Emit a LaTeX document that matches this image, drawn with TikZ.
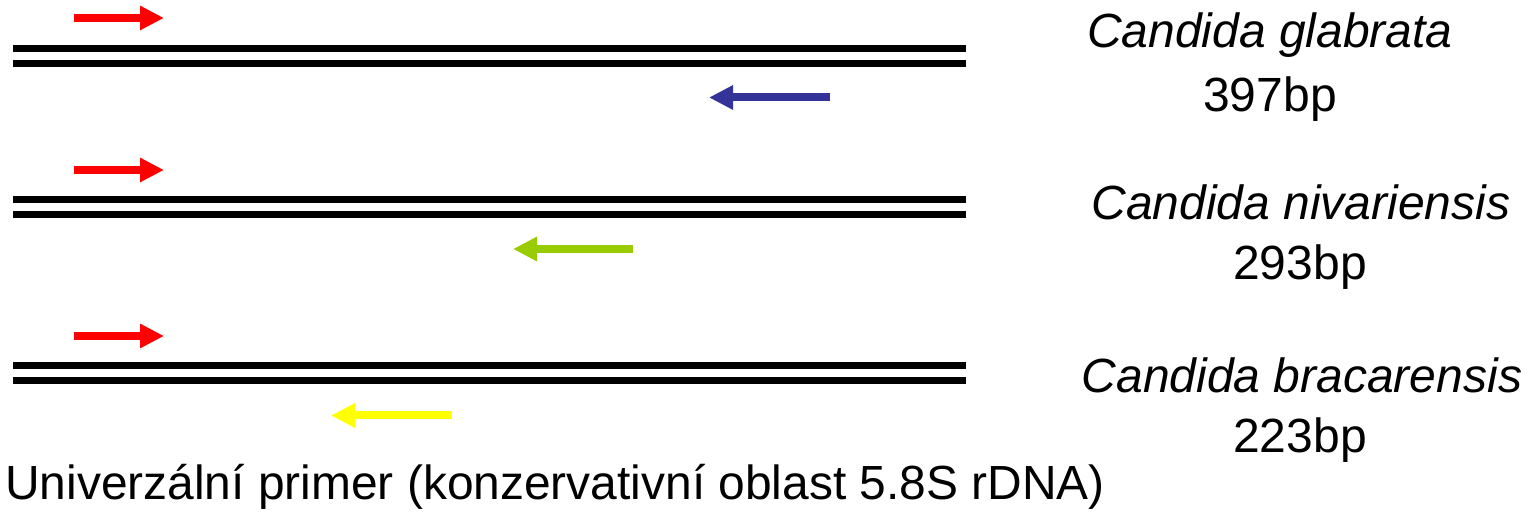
\documentclass[tikz,border=0pt]{standalone}
\usepackage{fontspec}
\setmainfont{Liberation Sans}
\usetikzlibrary{arrows.meta}
\definecolor{primred}{HTML}{FF0000}
\definecolor{primblue}{HTML}{333399}
\definecolor{primgreen}{HTML}{99CC00}
\definecolor{primyellow}{HTML}{FFFF00}
\begin{document}
\begin{tikzpicture}[x=0.5pt,y=-0.5pt,
  strand/.style={line width=3.5pt,black},
  primer/.style={line width=4pt,-{Triangle[length=12pt,width=11.5pt]}},
  species/.style={anchor=base,inner sep=0pt,font=\fontsize{24}{28}\selectfont\itshape},
  size/.style={anchor=base,inner sep=0pt,font=\fontsize{24}{28}\selectfont},
  caption/.style={anchor=base west,inner sep=0pt,font=\fontsize{23.95}{28}\selectfont}]
\useasboundingbox (0,0) rectangle (1531,512);

% DNA double strands
\foreach \i/\ya/\yb in {1/48.5/63.5, 2/199.5/214.5, 3/366/381}{
  \coordinate (s\i aL) at (13,\ya);
  \coordinate (s\i aR) at (966,\ya);
  \coordinate (s\i bL) at (13,\yb);
  \coordinate (s\i bR) at (966,\yb);
  \draw[strand] (s\i aL) -- (s\i aR);
  \draw[strand] (s\i bL) -- (s\i bR);
}

% universal forward primers
\foreach \i/\y in {1/18, 2/170, 3/336}{
  \coordinate (f\i s) at (74,\y);
  \coordinate (f\i e) at (164,\y);
  \draw[primer,primred] (f\i s) -- (f\i e);
}

% species-specific reverse primers
\coordinate (r1s) at (830,97.5);  \coordinate (r1e) at (709,97.5);
\coordinate (r2s) at (633,249);   \coordinate (r2e) at (513,249);
\coordinate (r3s) at (452,415.5); \coordinate (r3e) at (331,415.5);
\draw[primer,primblue]   (r1s) -- (r1e);
\draw[primer,primgreen]  (r2s) -- (r2e);
\draw[primer,primyellow] (r3s) -- (r3e);

% labels
\node[species] (n1) at (1270,48)  {Candida glabrata};
\node[size]    (b1) at (1270,112) {397bp};
\node[species] (n2) at (1301,220) {Candida nivariensis};
\node[size]    (b2) at (1300,280) {293bp};
\node[species] (n3) at (1302,393) {Candida bracarensis};
\node[size]    (b3) at (1300,453) {223bp};

\node[caption] (cap) at (5,500) {Univerzální primer (konzervativní oblast 5.8S rDNA)};
\end{tikzpicture}
\end{document}
